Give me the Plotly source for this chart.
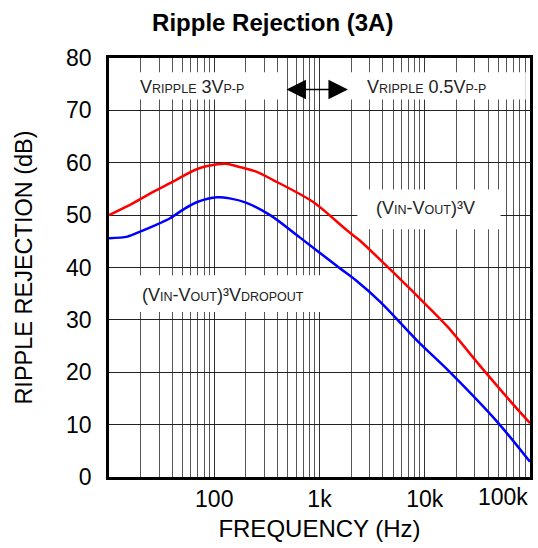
import plotly.graph_objects as go

# ---- data ----
red_freq = [10, 17, 25, 38, 69, 107, 130, 174, 250, 363, 871, 1820, 2400, 5000, 11000, 16600, 36300, 74000, 100000]
red_db = [50.0, 52.3, 54.2, 56.1, 58.8, 59.7, 59.8, 59.2, 58.3, 56.7, 52.5, 47.1, 45.2, 39.1, 32.3, 28.6, 20.4, 13.2, 10.3]

blue_freq = [10, 15, 19.5, 27, 38, 52, 69, 107, 140, 200, 340, 645, 1550, 2200, 3800, 8700, 16600, 50000, 100000]
blue_db = [45.6, 45.9, 46.8, 48.0, 49.4, 51.2, 52.5, 53.4, 53.2, 52.4, 50.0, 45.8, 39.9, 37.6, 33.4, 25.8, 20.4, 10.3, 2.9]

x_tickvals = [100, 1000, 10000, 100000]
x_ticktext = ["100", "1k", "10k", ""]
last_tick_label = "100k"
y_tickvals = [0, 10, 20, 30, 40, 50, 60, 70, 80]
minor_vals = [m * 10 ** d for d in range(1, 5) for m in range(2, 10)]

FONT = "Liberation Sans, Arial, sans-serif"

def sub(t, size=12.5):
    return f'<span style="font-size:{size}px">{t}</span>'

fig = go.Figure()
fig.add_trace(go.Scatter(x=red_freq, y=red_db, mode="lines",
                         line=dict(color="#ff0000", width=2.5, shape="spline", smoothing=0.8),
                         showlegend=False))
fig.add_trace(go.Scatter(x=blue_freq, y=blue_db, mode="lines",
                         line=dict(color="#0000ff", width=2.5, shape="spline", smoothing=0.8),
                         showlegend=False))

# white label boxes
boxes = [(0.008, 0.405, 72.1, 77.3), (0.565, 0.99, 72.1, 77.3),
         (0.59, 0.93, 47.3, 54.9), (0.008, 0.548, 31.5, 38.5)]
for x0, x1, y0, y1 in boxes:
    fig.add_shape(type="rect", xref="paper", yref="y", x0=x0, x1=x1, y0=y0, y1=y1,
                  fillcolor="white", line=dict(width=0), layer="above")

tf = dict(family=FONT, size=18, color="#222")
fig.add_annotation(xref="paper", yref="y", x=0.197, y=74.4, showarrow=False, font=tf,
                   xanchor="center", yanchor="middle",
                   text="V" + sub("RIPPLE") + " 3V" + sub("P-P"))
fig.add_annotation(xref="paper", yref="y", x=0.755, y=74.4, showarrow=False, font=tf,
                   xanchor="center", yanchor="middle",
                   text="V" + sub("RIPPLE") + " 0.5V" + sub("P-P"))
fig.add_annotation(xref="paper", yref="y", x=0.751, y=51.3, showarrow=False, font=tf,
                   xanchor="center", yanchor="middle",
                   text="(V" + sub("IN") + "-V" + sub("OUT") + ")³V")
fig.add_annotation(xref="paper", yref="y", x=0.271, y=34.7, showarrow=False, font=tf,
                   xanchor="center", yanchor="middle",
                   text="(V" + sub("IN") + "-V" + sub("OUT") + ")³V" + sub("DROPOUT"))
# last x tick label, kept inside the figure (right-aligned to the axis end)
fig.add_annotation(xref="paper", yref="paper", x=1.0, y=0, yshift=-20, showarrow=False,
                   xanchor="right", yanchor="middle", text=last_tick_label,
                   font=dict(family=FONT, size=23, color="black"))
# double-headed arrow
fig.add_annotation(xref="x", yref="y", x=3.27, y=74.0, ax=-63, ay=0, text="",
                   showarrow=True, arrowhead=2, arrowside="end+start",
                   arrowsize=2.6, arrowwidth=1.5, arrowcolor="black")

fig.update_layout(
    width=538, height=548,
    margin=dict(l=109, r=8, t=58, b=71),
    paper_bgcolor="white", plot_bgcolor="white",
    font=dict(family=FONT, color="black"),
    title=dict(text="<b>Ripple Rejection (3A)</b>", x=0.507, xref="container",
               y=1 - 23 / 548, yref="container", xanchor="center", yanchor="middle",
               font=dict(family=FONT, size=24, color="black")),
    xaxis=dict(type="log", range=[1, 5], tickvals=x_tickvals, ticktext=x_ticktext,
               showgrid=True, gridcolor="#333", gridwidth=1,
               minor=dict(tickvals=minor_vals, showgrid=True, gridcolor="#555", gridwidth=1, ticks=""),
               showline=True, linecolor="black", linewidth=2.5, mirror=True,
               ticks="", ticklabelstandoff=0, automargin=False,
               tickfont=dict(family=FONT, size=23, color="black"),
               title=dict(text="FREQUENCY (Hz)", standoff=9,
                          font=dict(family=FONT, size=24, color="black")),
               zeroline=False),
    yaxis=dict(range=[0, 80], tickvals=y_tickvals,
               showgrid=True, gridcolor="#222", gridwidth=1,
               showline=True, linecolor="black", linewidth=2.5, mirror=True,
               ticks="", ticklabelstandoff=10, automargin=False,
               tickfont=dict(family=FONT, size=23, color="black"),
               title=dict(text="RIPPLE REJECTION (dB)", standoff=27,
                          font=dict(family=FONT, size=23.5, color="black")),
               zeroline=False),
)

fig.write_html("out.html", config={"displayModeBar": False},
               post_script="document.body.style.margin='0';")
